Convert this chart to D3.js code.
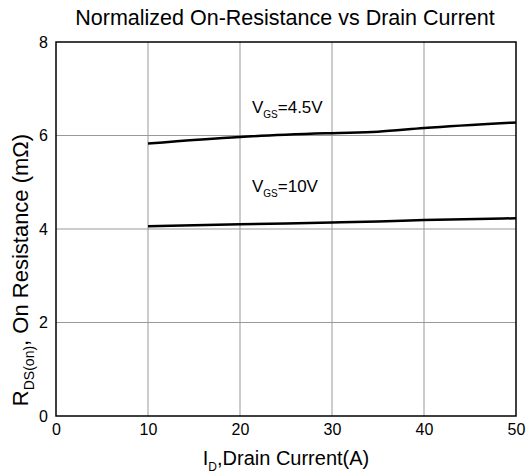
<!DOCTYPE html>
<html><head><meta charset="utf-8">
<script src="https://cdn.jsdelivr.net/npm/d3@7"></script>
<style>body{margin:0;background:#fff;} text{font-family:"Liberation Sans",Arial,sans-serif;}</style>
</head><body>
<svg id="c" width="526" height="474"></svg>
<script>
const xTicks = [0, 10, 20, 30, 40, 50];
const yTicks = [0, 2, 4, 6, 8];
const currents = [10, 20, 30, 35, 40, 50];
const rds45 = [5.83, 5.97, 6.05, 6.08, 6.16, 6.28];
const rds10 = [4.06, 4.10, 4.14, 4.16, 4.19, 4.23];
const seriesLabels = [{vgs: "=4.5V", x: 21.3, y: 6.48}, {vgs: "=10V", x: 21.3, y: 4.8}];

const svg = d3.select("#c");
const L = 56, R = 516, T = 42, B = 416;
const x = d3.scaleLinear().domain([0, 50]).range([L, R]);
const y = d3.scaleLinear().domain([0, 8]).range([B, T]);

// grid
svg.append("g").selectAll("line").data(xTicks.slice(1, -1)).join("line")
  .attr("x1", d => x(d)).attr("x2", d => x(d)).attr("y1", T).attr("y2", B)
  .attr("stroke", "#999").attr("stroke-width", 1);
svg.append("g").selectAll("line").data(yTicks.slice(1, -1)).join("line")
  .attr("y1", d => y(d)).attr("y2", d => y(d)).attr("x1", L).attr("x2", R)
  .attr("stroke", "#999").attr("stroke-width", 1);

// frame
svg.append("rect").attr("x", L).attr("y", T).attr("width", R - L).attr("height", B - T)
  .attr("fill", "none").attr("stroke", "#000").attr("stroke-width", 1.5);

// axes with d3 (labels only)
const xAxis = svg.append("g").attr("transform", `translate(0,${B})`)
  .call(d3.axisBottom(x).tickValues(xTicks).tickSize(0).tickPadding(8));
xAxis.select(".domain").remove();
xAxis.selectAll("text").attr("font-size", 16).attr("fill", "#000").attr("font-family", "Liberation Sans, Arial, sans-serif");
const yAxis = svg.append("g").attr("transform", `translate(${L},0)`)
  .call(d3.axisLeft(y).tickValues(yTicks).tickSize(0).tickPadding(8));
yAxis.select(".domain").remove();
yAxis.selectAll("text").attr("font-size", 16).attr("fill", "#000").attr("font-family", "Liberation Sans, Arial, sans-serif");

// lines
const line = d3.line().x((d, i) => x(currents[i])).y(d => y(d)).curve(d3.curveMonotoneX);
[rds45, rds10].forEach(s => {
  svg.append("path").datum(s).attr("d", line).attr("fill", "none")
    .attr("stroke", "#000").attr("stroke-width", 2.5);
});

// annotations
seriesLabels.forEach(s => {
  const t = svg.append("text").attr("x", x(s.x)).attr("y", y(s.y)).attr("font-size", 17);
  t.append("tspan").text("V");
  t.append("tspan").attr("font-size", 10).attr("dy", 5).text("GS");
  t.append("tspan").attr("dy", -5).text(s.vgs);
});

// title
svg.append("text").attr("x", 285).attr("y", 25).attr("text-anchor", "middle")
  .attr("font-size", 21.5).text("Normalized On-Resistance vs Drain Current");

// x label
const xl = svg.append("text").attr("x", 286).attr("y", 465).attr("text-anchor", "middle").attr("font-size", 20);
xl.append("tspan").text("I");
xl.append("tspan").attr("font-size", 12).attr("dy", 6).text("D");
xl.append("tspan").attr("dy", -6).text(",Drain Current(A)");

// y label
const yl = svg.append("text").attr("transform", "translate(28,270) rotate(-90)")
  .attr("text-anchor", "middle").attr("font-size", 22);
yl.append("tspan").text("R");
yl.append("tspan").attr("font-size", 14).attr("dy", 6).text("DS(on)");
yl.append("tspan").attr("dy", -6).text(", On Resistance (m\u03A9)");
</script>
</body></html>
